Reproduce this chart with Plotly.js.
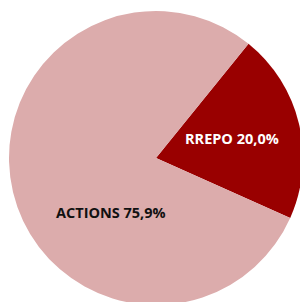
<!DOCTYPE html>
<html>
<head>
<meta charset="utf-8">
<script src="https://cdn.plot.ly/plotly-3.0.1.min.js"></script>
<style>
html,body{margin:0;padding:0;overflow:hidden;background:#fff;width:300px;height:302px;}
#chart{width:310px;height:320px;}
</style>
</head>
<body>
<div id="chart"></div>
<script>
// Data
const labels = ["RREPO", "ACTIONS"];
const values = [20.0, 75.9];
const colors = ["#990000", "#DCACAC"];
const textColors = ["#FFFFFF", "#111111"];

// Label positions (paper coords)
const labelPos = [[0.748, 0.566], [0.358, 0.3375]];

const W = 310, H = 320;
const trace = {
  type: "pie",
  labels: labels,
  values: values,
  sort: false,
  direction: "clockwise",
  rotation: 39,
  marker: {colors: colors, line: {width: 0}},
  textinfo: "none",
  hoverinfo: "none",
  showlegend: false,
  domain: {x: [9 / W, 303 / W], y: [1 - 305 / H, 1 - 11 / H]}
};

const fmt = v => v.toFixed(1).replace(".", ",") + "%";
const annotations = labels.map((l, i) => ({
  text: "<b>" + l + " " + fmt(values[i]) + "</b>",
  x: labelPos[i][0], y: labelPos[i][1],
  xref: "paper", yref: "paper",
  showarrow: false,
  xanchor: "center", yanchor: "middle",
  font: {family: "Open Sans", size: 14.5, color: textColors[i]}
}));

Plotly.newPlot("chart", [trace], {
  width: W, height: H,
  margin: {l: 0, r: 0, t: 0, b: 0},
  paper_bgcolor: "#fff",
  annotations: annotations
}, {displayModeBar: false, staticPlot: true});
</script>
</body>
</html>
